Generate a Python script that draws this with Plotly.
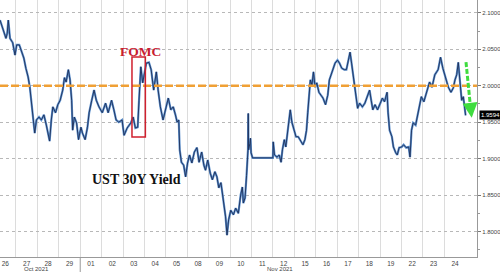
import plotly.graph_objects as go

# ---------------- data ----------------
times = [
    "2021-10-26 06:06", "2021-10-26 08:00", "2021-10-26 10:30", "2021-10-26 12:48", "2021-10-26 14:12",
    "2021-10-26 15:24", "2021-10-26 17:18", "2021-10-26 20:18", "2021-10-26 22:54",
    "2021-10-27 00:48", "2021-10-27 03:42", "2021-10-27 06:18", "2021-10-27 08:48", "2021-10-27 11:06",
    "2021-10-27 13:36", "2021-10-27 15:30", "2021-10-27 17:24", "2021-10-27 19:06", "2021-10-27 21:00",
    "2021-10-27 22:54",
    "2021-10-28 01:48", "2021-10-28 04:24", "2021-10-28 07:18", "2021-10-28 10:00", "2021-10-28 11:48",
    "2021-10-28 13:42", "2021-10-28 15:36", "2021-10-28 17:18", "2021-10-28 20:18", "2021-10-28 22:54",
    "2021-10-29 01:30", "2021-10-29 04:24", "2021-10-29 06:18", "2021-10-29 08:12", "2021-10-29 10:42",
    "2021-10-29 12:36", "2021-10-29 14:24", "2021-10-29 15:30", "2021-10-29 17:24", "2021-10-29 19:54",
    "2021-10-29 22:06",
    "2021-11-01 00:48", "2021-11-01 02:30", "2021-11-01 05:30", "2021-11-01 08:06", "2021-11-01 10:00",
    "2021-11-01 12:54", "2021-11-01 15:30", "2021-11-01 18:00", "2021-11-01 21:00",
    "2021-11-02 00:42", "2021-11-02 04:24", "2021-11-02 07:18", "2021-11-02 11:06", "2021-11-02 13:42",
    "2021-11-02 16:12", "2021-11-02 19:12", "2021-11-02 22:54",
    "2021-11-03 01:06", "2021-11-03 04:36", "2021-11-03 08:42", "2021-11-03 11:18", "2021-11-03 13:48",
    "2021-11-03 16:24", "2021-11-03 17:54", "2021-11-03 19:54", "2021-11-03 22:00",
    "2021-11-04 00:18", "2021-11-04 02:06", "2021-11-04 05:00", "2021-11-04 07:30", "2021-11-04 10:18",
    "2021-11-04 13:18", "2021-11-04 15:18", "2021-11-04 17:48", "2021-11-04 20:48",
    "2021-11-05 00:18", "2021-11-05 02:42", "2021-11-05 05:30", "2021-11-05 08:12", "2021-11-05 10:42",
    "2021-11-05 12:36", "2021-11-05 14:24", "2021-11-05 15:30", "2021-11-05 17:24", "2021-11-05 19:54",
    "2021-11-05 22:06",
    "2021-11-08 00:18", "2021-11-08 02:30", "2021-11-08 05:06", "2021-11-08 07:54", "2021-11-08 10:48",
    "2021-11-08 13:12", "2021-11-08 16:06", "2021-11-08 18:36", "2021-11-08 20:24", "2021-11-08 22:54",
    "2021-11-09 01:42", "2021-11-09 04:06", "2021-11-09 06:54", "2021-11-09 09:12", "2021-11-09 11:18",
    "2021-11-09 13:42", "2021-11-09 16:06", "2021-11-09 18:54", "2021-11-09 20:30", "2021-11-09 22:18",
    "2021-11-10 00:42", "2021-11-10 03:42", "2021-11-10 06:12", "2021-11-10 09:12", "2021-11-10 11:48",
    "2021-11-10 13:42", "2021-11-10 14:48", "2021-11-10 16:42", "2021-11-10 18:24", "2021-11-10 20:00",
    "2021-11-10 20:18", "2021-11-10 20:36", "2021-11-10 21:24", "2021-11-10 22:06", "2021-11-10 22:48",
    "2021-11-10 23:30",
    "2021-11-11 01:06", "2021-11-11 23:54",
    "2021-11-12 00:18", "2021-11-12 01:42", "2021-11-12 04:36", "2021-11-12 07:00", "2021-11-12 09:06",
    "2021-11-12 10:36", "2021-11-12 12:42", "2021-11-12 14:24", "2021-11-12 15:54", "2021-11-12 17:36",
    "2021-11-12 19:24", "2021-11-12 21:12", "2021-11-12 23:24",
    "2021-11-15 01:48", "2021-11-15 04:18", "2021-11-15 07:12", "2021-11-15 09:36", "2021-11-15 11:48",
    "2021-11-15 13:36", "2021-11-15 15:00", "2021-11-15 16:30", "2021-11-15 17:54", "2021-11-15 19:42",
    "2021-11-15 21:24", "2021-11-15 23:12",
    "2021-11-16 01:06", "2021-11-16 03:30", "2021-11-16 05:36", "2021-11-16 08:06", "2021-11-16 10:54",
    "2021-11-16 13:24", "2021-11-16 15:12", "2021-11-16 17:00", "2021-11-16 19:24", "2021-11-16 21:36",
    "2021-11-17 00:18", "2021-11-17 02:30", "2021-11-17 05:06", "2021-11-17 07:54", "2021-11-17 10:18",
    "2021-11-17 12:42", "2021-11-17 14:24", "2021-11-17 16:06", "2021-11-17 18:12", "2021-11-17 19:30",
    "2021-11-17 21:12", "2021-11-17 22:54",
    "2021-11-18 01:06", "2021-11-18 04:12", "2021-11-18 07:00", "2021-11-18 09:54", "2021-11-18 12:18",
    "2021-11-18 14:06", "2021-11-18 15:54", "2021-11-18 18:24", "2021-11-18 21:12",
    "2021-11-19 00:18", "2021-11-19 02:36", "2021-11-19 05:00", "2021-11-19 07:54", "2021-11-19 09:00",
    "2021-11-19 10:42", "2021-11-19 13:18", "2021-11-19 15:00", "2021-11-19 17:36", "2021-11-19 19:18",
    "2021-11-19 21:24",
    "2021-11-22 00:18", "2021-11-22 02:24", "2021-11-22 05:18", "2021-11-22 08:06", "2021-11-22 09:36",
    "2021-11-22 11:18", "2021-11-22 13:06", "2021-11-22 15:54", "2021-11-22 18:24", "2021-11-22 20:30",
    "2021-11-22 22:18",
    "2021-11-23 01:06", "2021-11-23 03:48", "2021-11-23 07:30", "2021-11-23 10:12", "2021-11-23 13:24",
    "2021-11-23 17:06", "2021-11-23 19:48", "2021-11-23 22:24",
    "2021-11-24 00:48", "2021-11-24 02:42", "2021-11-24 04:30", "2021-11-24 07:30", "2021-11-24 10:06",
    "2021-11-24 12:00", "2021-11-24 13:54", "2021-11-24 15:42", "2021-11-24 17:36", "2021-11-24 19:30",
    "2021-11-24 21:18", "2021-11-24 23:12", "2021-11-24 23:54",
]

yields = [
    2.090, 2.083, 2.072, 2.065, 2.072, 2.090, 2.065, 2.059, 2.042,
    2.056, 2.056, 2.045, 2.038, 2.024, 2.012, 1.998, 1.976, 1.957, 1.935, 1.953,
    1.957, 1.953, 1.960, 1.946, 1.935, 1.924, 1.953, 1.971, 1.963, 1.974,
    1.980, 1.994, 2.011, 2.005, 2.022, 2.008, 1.980, 1.939, 1.957, 1.949, 1.926,
    1.943, 1.935, 1.926, 1.943, 1.963, 1.980, 1.994, 1.980, 1.971,
    1.963, 1.976, 1.963, 1.980, 1.967, 1.953, 1.950, 1.953,
    1.932, 1.942, 1.949, 1.957, 1.942, 1.943, 1.980, 2.026, 2.004,
    2.017, 2.031, 2.032, 2.022, 1.994, 2.019, 1.994, 1.971, 1.953,
    1.971, 1.983, 1.967, 1.971, 1.960, 1.950, 1.953, 1.912, 1.895, 1.891, 1.875,
    1.894, 1.905, 1.894, 1.909, 1.915, 1.895, 1.909, 1.891, 1.884, 1.898,
    1.880, 1.871, 1.882, 1.875, 1.860, 1.867, 1.847, 1.820, 1.795, 1.816,
    1.829, 1.823, 1.832, 1.825, 1.850, 1.861, 1.839, 1.846, 1.877, 1.912,
    1.962, 1.912, 1.916, 1.921, 1.928, 1.908,
    1.901, 1.901,
    1.923, 1.905, 1.902, 1.905, 1.895, 1.912, 1.926, 1.916, 1.930, 1.949, 1.967, 1.950, 1.939,
    1.930, 1.930, 1.923, 1.919, 1.926, 1.939, 1.963, 1.994, 2.008, 2.001, 2.019, 1.998,
    2.004, 1.991, 1.987, 1.983, 1.974, 1.987, 2.008, 2.015, 2.022, 2.031,
    2.035, 2.031, 2.024, 2.022, 2.022, 2.038, 2.046, 2.031, 2.012, 2.004, 1.985, 1.969,
    1.976, 1.971, 1.976, 1.987, 1.994, 1.980, 1.967, 1.974, 1.967,
    1.976, 1.983, 1.978, 1.991, 1.963, 1.939, 1.930, 1.916, 1.908, 1.905, 1.915,
    1.916, 1.919, 1.915, 1.916, 1.902, 1.939, 1.949, 1.946, 1.963, 1.974, 1.985,
    1.978, 1.991, 2.005, 1.998, 2.015, 2.022, 2.039, 2.024,
    2.015, 2.008, 1.998, 1.991, 1.997, 2.008, 2.015, 2.032, 2.008, 1.980, 1.985, 1.963, 1.9594,
]

day_dates = [
    "2021-10-26", "2021-10-27", "2021-10-28", "2021-10-29",
    "2021-11-01", "2021-11-02", "2021-11-03", "2021-11-04", "2021-11-05",
    "2021-11-08", "2021-11-09", "2021-11-10", "2021-11-11", "2021-11-12",
    "2021-11-15", "2021-11-16", "2021-11-17", "2021-11-18", "2021-11-19",
    "2021-11-22", "2021-11-23", "2021-11-24",
]
day_labels = [d[-2:] for d in day_dates]
y_ticks = [1.80, 1.85, 1.90, 1.95, 2.00, 2.05, 2.10]
reference_level = 2.0
last_value = yields[-1]

# ---------------- figure ----------------
fig = go.Figure()
fig.add_trace(go.Scatter(x=times, y=yields, mode="lines",
                         line=dict(color="#5f92cf", width=2.2), hoverinfo="skip"))
fig.add_trace(go.Scatter(x=times, y=yields, mode="lines",
                         line=dict(color="#1d2f58", width=0.9)))

# horizontal orange dashed level
fig.add_shape(type="line", xref="paper", x0=0, x1=1, yref="y",
              y0=reference_level, y1=reference_level,
              line=dict(color="#f0a035", width=2.5, dash="8px,3px"))

# FOMC box + label
fig.add_shape(type="rect", xref="x", yref="y",
              x0="2021-11-03 10:00", x1="2021-11-04 01:00", y0=1.9296, y1=2.0394,
              line=dict(color="#d0202e", width=1.5))
fig.add_annotation(x="2021-11-03 19:00", y=2.0476, xref="x", yref="y",
                   text="<b>FOMC</b>", showarrow=False,
                   font=dict(family="Liberation Serif", size=13.5, color="#c8202f"))

# green dashed arrow
fig.add_shape(type="line", xref="x", yref="y",
              x0="2021-11-25 00:20", y0=2.0325, x1="2021-11-25 06:00", y1=1.963,
              line=dict(color="#3fdc3f", width=3, dash="5px,2px"))
fig.add_annotation(x="2021-11-25 06:45", y=1.9560, xref="x", yref="y",
                   ax=-1, ay=-9, showarrow=True, arrowhead=2, arrowsize=1.0,
                   arrowwidth=3, arrowcolor="#3fdc3f", text="")

# chart title
fig.add_annotation(xref="paper", yref="paper", x=0.189, y=0.265,
                   text="<b>UST 30Y Yield</b>", showarrow=False,
                   font=dict(family="Liberation Serif", size=14, color="#111111"))

# last value tag
fig.add_annotation(xref="paper", yref="y", x=1, y=last_value, xanchor="left",
                   xshift=2, text="%.4f" % last_value, showarrow=False,
                   bgcolor="#000000", borderpad=1,
                   font=dict(family="Liberation Sans", size=6, color="#ffffff"))

# month labels
fig.add_annotation(xref="x", yref="paper", x="2021-10-27 23:00", y=-0.045,
                   text="Oct 2021", showarrow=False, yanchor="middle",
                   font=dict(family="Liberation Sans", size=6, color="#444444"))
fig.add_annotation(xref="x", yref="paper", x="2021-11-12 08:00", y=-0.045,
                   text="Nov 2021", showarrow=False, yanchor="middle",
                   font=dict(family="Liberation Sans", size=6, color="#444444"))

# month boundary tick
fig.add_shape(type="line", xref="x", yref="paper", x0="2021-11-01", x1="2021-11-01",
              y0=-0.07, y1=0, line=dict(color="#999999", width=1))

fig.update_layout(
    width=500, height=272,
    margin=dict(l=0, r=23, t=0, b=15),
    paper_bgcolor="white", plot_bgcolor="white",
    showlegend=False,
    xaxis=dict(
        range=["2021-10-26 06:05", "2021-11-25 12:40"],
        rangebreaks=[dict(bounds=["sat", "mon"])],
        tickmode="array",
        tickvals=[d + " 12:00" for d in day_dates],
        ticktext=day_labels,
        showgrid=False, ticks="", ticklen=0,
        tickfont=dict(family="Liberation Sans", size=6.5, color="#444444"),
        showline=True, linecolor="#999999", linewidth=1,
        zeroline=False,
        minor=dict(tickmode="array", tickvals=day_dates[1:],
                   showgrid=True, gridcolor="#dcdcdc", gridwidth=1, ticks=""),
    ),
    yaxis=dict(
        side="right",
        range=[1.765, 2.1176],
        tickmode="array", tickvals=y_ticks, tickformat=".4f",
        ticks="outside", ticklen=3, tickcolor="#777777",
        tickfont=dict(family="Liberation Sans", size=6, color="#444444"),
        showgrid=True, gridcolor="#b8b8b8", griddash="dot", gridwidth=1,
        showline=True, linecolor="#999999", linewidth=1,
        zeroline=False,
        minor=dict(dtick=0.025, ticks="outside", ticklen=2, tickcolor="#999999", showgrid=False),
    ),
)

fig.write_html("out.html")
